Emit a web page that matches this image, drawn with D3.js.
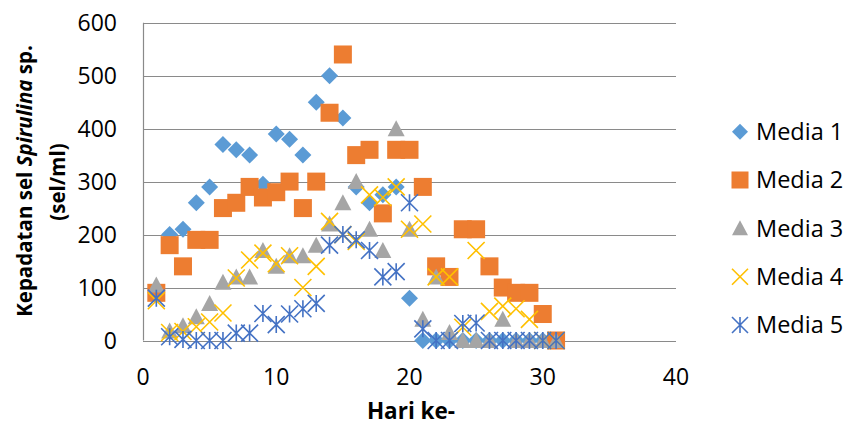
<!DOCTYPE html>
<html><head><meta charset="utf-8">
<script src="https://cdn.jsdelivr.net/npm/d3@7"></script>
<style>
html,body{margin:0;padding:0;background:#fff;}
text{font-family:"Open Sans",sans-serif;fill:#000;}
</style></head>
<body>
<svg id="c" width="845" height="425"></svg>
<script>
const days = d3.range(1, 32);
const media1 = [90,200,210,260,290,370,360,350,295,390,380,350,450,500,420,290,260,275,290,80,0,0,0,0,0,0,0,0,0,0,0];
const media2 = [90,180,140,190,190,250,260,290,270,280,300,250,300,430,540,350,360,240,360,360,290,140,120,210,210,140,100,90,90,50,0];
const media3 = [105,18,28,45,70,110,120,120,170,140,160,160,180,220,260,300,210,170,400,210,40,120,15,0,0,0,40,0,0,0,0];
const media4 = [75,15,17,26,35,52,118,152,165,145,160,100,140,225,200,187,275,270,290,210,220,120,120,25,170,55,65,60,40,0,0];
const media5 = [80,7,2,0,0,0,14,14,51,30,50,60,70,180,200,190,170,120,130,260,22,0,0,32,33,0,0,0,0,0,0];
const seriesNames = ["Media 1","Media 2","Media 3","Media 4","Media 5"];
const seriesValues = [media1, media2, media3, media4, media5];
const colors = ["#5B9BD5","#ED7D31","#A5A5A5","#FFC000","#4472C4"];
const shapes = ["diamond","square","triangle","x","star"];
const xTicks = [0,10,20,30,40];
const yTicks = [0,100,200,300,400,500,600];

const svg = d3.select("#c");
const x = d3.scaleLinear().domain([0,40]).range([143,676]);
const y = d3.scaleLinear().domain([0,600]).range([340.5,22.7]);

// gridlines
svg.append("g").selectAll("line").data(yTicks.filter(d=>d>0)).join("line")
  .attr("x1",x(0)).attr("x2",x(40))
  .attr("y1",d=>Math.round(y(d))+0.5).attr("y2",d=>Math.round(y(d))+0.5)
  .attr("stroke","#8a8a8a").attr("stroke-width",1.2);
// axes lines
svg.append("line").attr("x1",x(0)).attr("x2",x(40))
  .attr("y1",Math.round(y(0))+0.5).attr("y2",Math.round(y(0))+0.5)
  .attr("stroke","#8a8a8a").attr("stroke-width",1.2);
svg.append("line").attr("x1",Math.round(x(0))+0.5).attr("x2",Math.round(x(0))+0.5)
  .attr("y1",y(0)).attr("y2",y(600))
  .attr("stroke","#8a8a8a").attr("stroke-width",1.2);

// tick labels
svg.append("g").selectAll("text").data(yTicks).join("text")
  .attr("x",117).attr("y",d=>y(d)).attr("dy","0.35em")
  .attr("text-anchor","end").attr("font-size",23).text(d=>d);
svg.append("g").selectAll("text").data(xTicks).join("text")
  .attr("x",d=>x(d)).attr("y",377).attr("dy","0.35em")
  .attr("text-anchor","middle").attr("font-size",23).text(d=>d);

// axis titles
svg.append("text").attr("x",411).attr("y",411).attr("dy","0.35em")
  .attr("text-anchor","middle").attr("font-size",22.5).attr("font-weight","bold").text("Hari ke-");
const yt = svg.append("text").attr("transform","translate(25,181) rotate(-90)")
  .attr("text-anchor","middle").attr("dy","0.35em").attr("font-size",20.5).attr("font-weight","bold");
yt.append("tspan").text("Kepadatan sel ");
yt.append("tspan").attr("font-style","italic").text("Spirulina");
yt.append("tspan").text(" sp.");
svg.append("text").attr("transform","translate(58,182) rotate(-90)")
  .attr("text-anchor","middle").attr("dy","0.35em").attr("font-size",20.5).attr("font-weight","bold").text("(sel/ml)");

function drawMarker(g, shape, color, s) {
  const h = s/2;
  if (shape==="diamond") g.append("path").attr("d",`M0,${-h}L${h},0L0,${h}L${-h},0Z`).attr("fill",color);
  else if (shape==="square") g.append("rect").attr("x",-h).attr("y",-h).attr("width",s).attr("height",s).attr("fill",color);
  else if (shape==="triangle") g.append("path").attr("d",`M0,${-h}L${h},${h-1}L${-h},${h-1}Z`).attr("fill",color);
  else if (shape==="x") {
    g.append("path").attr("d",`M${-h},${-h}L${h},${h}M${h},${-h}L${-h},${h}`).attr("stroke",color).attr("stroke-width",1.6).attr("fill","none");
  } else if (shape==="star") {
    g.append("path").attr("d",`M${-h},${-h}L${h},${h}M${h},${-h}L${-h},${h}M0,${-h}L0,${h}`).attr("stroke",color).attr("stroke-width",1.6).attr("fill","none");
  }
}

const sizes = {diamond:17, square:18, triangle:17, x:17, star:17};
seriesValues.forEach((vals, i) => {
  const g = svg.append("g");
  days.forEach((d, j) => {
    const m = g.append("g").attr("transform",`translate(${x(d)},${y(vals[j])})`);
    drawMarker(m, shapes[i], colors[i], sizes[shapes[i]]);
  });
});

// legend
const legY = [131.7,180,228.3,276.7,325];
seriesNames.forEach((n,i)=>{
  const m = svg.append("g").attr("transform",`translate(740,${legY[i]})`);
  drawMarker(m, shapes[i], colors[i], shapes[i]==="square"?17:16);
  svg.append("text").attr("x",756).attr("y",legY[i]).attr("dy","0.35em").attr("font-size",23.5).text(n);
});
</script>
</body></html>
